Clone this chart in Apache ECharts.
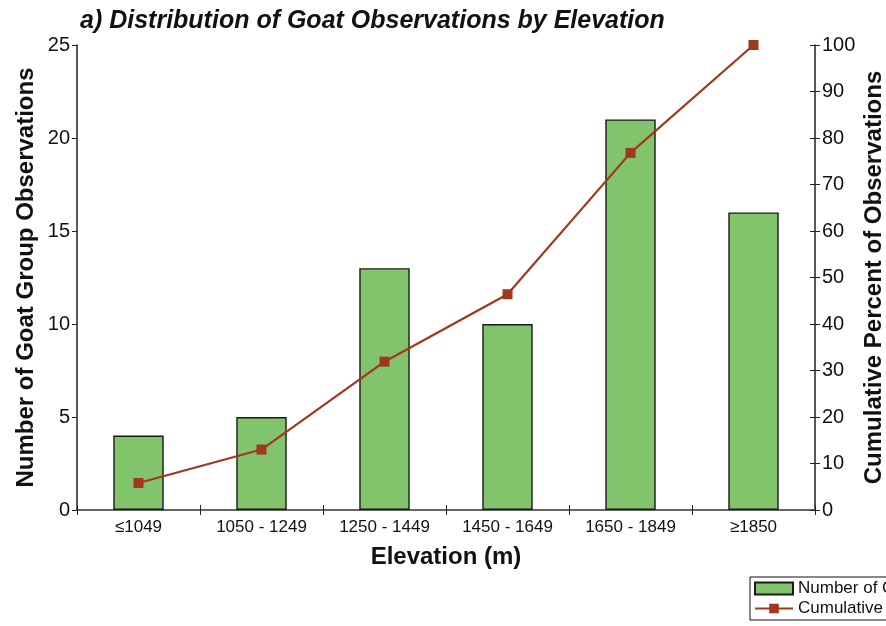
<!DOCTYPE html>
<html><head><meta charset="utf-8">
<script src="https://cdn.jsdelivr.net/npm/echarts@6/dist/echarts.min.js"></script>
<style>html,body{margin:0;padding:0;background:#fff}#c{width:886px;height:626px}</style>
</head><body><div id="c"></div>
<script>
const categories = ['≤1049','1050 - 1249','1250 - 1449','1450 - 1649','1650 - 1849','≥1850'];
const counts = [4, 5, 13, 10, 21, 16];
const cumulativePct = [5.8, 13.0, 31.9, 46.4, 76.8, 100];
const leftTicks = {min:0, max:25, interval:5};
const rightTicks = {min:0, max:100, interval:10};

const F = '"Liberation Sans", Arial, sans-serif';
const chart = echarts.init(document.getElementById('c'), null, {renderer:'canvas'});
chart.setOption({
  animation:false,
  backgroundColor:'#fff',
  title:{text:'a) Distribution of Goat Observations by Elevation', left:75, top:4,
    textStyle:{fontFamily:F, fontSize:25, fontWeight:'bold', fontStyle:'italic', color:'#111'}},
  legend:{orient:'vertical', left:750, top:577, padding:[3,4,3,4], itemGap:3,
    itemWidth:38, itemHeight:12, borderColor:'#111', borderWidth:1,
    textStyle:{fontFamily:F, fontSize:17, color:'#111'},
    data:[{name:'Number of Goat Group Observations', icon:'rect'},
          {name:'Cumulative Percent of Observations'}]},
  grid:{left:77, right:71, top:45, bottom:116, show:false, containLabel:false, outerBoundsMode:'none'},
  xAxis:[{type:'category', data:categories, name:'Elevation (m)', nameLocation:'middle', nameGap:35,
    nameTextStyle:{fontFamily:F, fontSize:24, fontWeight:'bold', color:'#111'},
    axisLine:{lineStyle:{color:'#222', width:1.5}},
    axisTick:{show:true, alignWithLabel:false, length:5, lineStyle:{color:'#222'}},
    axisLabel:{fontFamily:F, fontSize:17, color:'#111', margin:9}},
   {type:'category', data:categories, position:'bottom', axisLine:{show:false},
    axisTick:{show:true, inside:true, length:5, lineStyle:{color:'#222'}}, axisLabel:{show:false}},
   {type:'category', data:categories, position:'top', axisLine:{show:true, lineStyle:{color:'#666', width:2}},
    axisTick:{show:false}, axisLabel:{show:false}}],
  yAxis:[{type:'value', min:leftTicks.min, max:leftTicks.max, interval:leftTicks.interval,
    name:'Number of Goat Group Observations', nameLocation:'middle', nameGap:39, nameRotate:90,
    nameMoveOverlap:false,
    nameTextStyle:{fontFamily:F, fontSize:24, fontWeight:'bold', color:'#111'},
    axisLine:{show:true, lineStyle:{color:'#222', width:1.5}},
    axisTick:{show:true, length:5, lineStyle:{color:'#222'}},
    axisLabel:{fontFamily:F, fontSize:20, color:'#111', margin:7},
    splitLine:{show:false}},
   {type:'value', position:'right', min:rightTicks.min, max:rightTicks.max, interval:rightTicks.interval,
    name:'Cumulative Percent of Observations', nameLocation:'middle', nameGap:47, nameRotate:90,
    nameMoveOverlap:false,
    nameTextStyle:{fontFamily:F, fontSize:24, fontWeight:'bold', color:'#111'},
    axisLine:{show:true, lineStyle:{color:'#222', width:1.5}},
    axisTick:{show:true, length:5, lineStyle:{color:'#222'}},
    axisLabel:{fontFamily:F, fontSize:20, color:'#111', margin:7},
    splitLine:{show:false}},
   {type:'value', position:'right', min:rightTicks.min, max:rightTicks.max, interval:rightTicks.interval,
    axisLine:{show:false}, axisTick:{show:true, inside:true, length:5, lineStyle:{color:'#222'}},
    axisLabel:{show:false}, splitLine:{show:false}}],
  series:[
    {name:'Number of Goat Group Observations', type:'bar', data:counts, xAxisIndex:0, yAxisIndex:0,
     barWidth:'41%', itemStyle:{color:'#82C46C', borderColor:'#1a1a1a', borderWidth:1.4}},
    {name:'Cumulative Percent of Observations', type:'line', data:cumulativePct, xAxisIndex:0, yAxisIndex:1,
     symbol:'rect', symbolSize:10, lineStyle:{color:'#A0381E', width:2.2},
     itemStyle:{color:'#A0381E'}, z:5}
  ]
});
</script></body></html>
